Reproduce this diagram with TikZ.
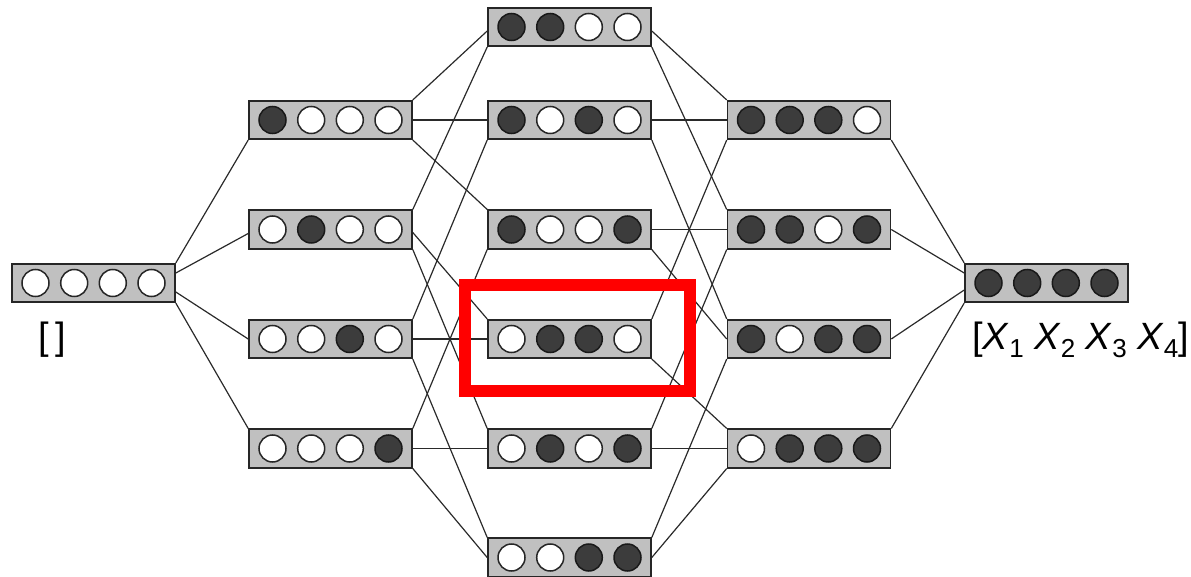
\documentclass[tikz,border=0pt]{standalone}
\usepackage{fontspec}
\setmainfont{Liberation Sans}
\usetikzlibrary{backgrounds}
\definecolor{boxgray}{HTML}{C0C0C0}
\definecolor{dotdark}{HTML}{3C3C3C}
\definecolor{linegray}{HTML}{2A2A2A}
\tikzset{
  bitbox/.style={rectangle, draw=black!85, line width=1.6pt, fill=boxgray,
    minimum width=163pt, minimum height=38.5pt, inner sep=0pt},
  bitone/.style={circle, draw=black!90, line width=1.5pt, fill=dotdark,
    minimum size=27pt, inner sep=0pt},
  bitzero/.style={circle, draw=black!85, line width=1.5pt, fill=white,
    minimum size=27pt, inner sep=0pt},
  link/.style={draw=linegray, line width=1.2pt},
  hilite/.style={rectangle, draw=red, line width=12pt, inner sep=0pt},
  lbl/.style={font=\fontsize{38}{40}\selectfont, inner sep=0pt, anchor=base}
}
\newcommand{\bitrow}[5]{%
  \node[bit#2] (#1-1) at ([xshift=-58pt]#1.center) {};
  \node[bit#3] (#1-2) at ([xshift=-19.3pt]#1.center) {};
  \node[bit#4] (#1-3) at ([xshift=19.3pt]#1.center) {};
  \node[bit#5] (#1-4) at ([xshift=58pt]#1.center) {};
}
\newcommand{\sbx}[1]{\raisebox{-0.22em}{\fontsize{26}{26}\selectfont #1}}
\begin{document}
\begin{tikzpicture}[x=1pt,y=-1pt]
\useasboundingbox (0,0) rectangle (1191,577);
% boxes
\node[bitbox] (e) at (93.5,283) {};
\node[bitbox] (a1) at (330.5,120) {};
\node[bitbox] (a2) at (330.5,229.5) {};
\node[bitbox] (a3) at (330.5,339) {};
\node[bitbox] (a4) at (330.5,448.5) {};
\node[bitbox] (b12) at (569.5,27) {};
\node[bitbox] (b13) at (569.5,120) {};
\node[bitbox] (b14) at (569.5,229.5) {};
\node[bitbox] (b23) at (569.5,339) {};
\node[bitbox] (b24) at (569.5,448.5) {};
\node[bitbox] (b34) at (569.5,557.5) {};
\node[bitbox] (c123) at (809,120) {};
\node[bitbox] (c124) at (809,229.5) {};
\node[bitbox] (c134) at (809,339) {};
\node[bitbox] (c234) at (809,448.5) {};
\node[bitbox] (f) at (1046.5,283) {};
% dots
\bitrow{e}{zero}{zero}{zero}{zero}
\bitrow{a1}{one}{zero}{zero}{zero}
\bitrow{a2}{zero}{one}{zero}{zero}
\bitrow{a3}{zero}{zero}{one}{zero}
\bitrow{a4}{zero}{zero}{zero}{one}
\bitrow{b12}{one}{one}{zero}{zero}
\bitrow{b13}{one}{zero}{one}{zero}
\bitrow{b14}{one}{zero}{zero}{one}
\bitrow{b23}{zero}{one}{one}{zero}
\bitrow{b24}{zero}{one}{zero}{one}
\bitrow{b34}{zero}{zero}{one}{one}
\bitrow{c123}{one}{one}{one}{zero}
\bitrow{c124}{one}{one}{zero}{one}
\bitrow{c134}{one}{zero}{one}{one}
\bitrow{c234}{zero}{one}{one}{one}
\bitrow{f}{one}{one}{one}{one}
% connectors
\begin{scope}[on background layer]
\draw[link] (e.north east) -- (a1.south west);
\draw[link] ([yshift=10pt]e.east) -- ([yshift=-4pt]a2.west);
\draw[link] ([yshift=-9pt]e.east) -- (a3.west);
\draw[link] (e.south east) -- (a4.north west);
\draw[link] (a1.north east) -- ([yshift=-4pt]b12.west);
\draw[link] (a1.east) -- (b13.west);
\draw[link] (a1.south east) -- (b14.north west);
\draw[link] (a2.north east) -- (b12.south west);
\draw[link] ([yshift=-3pt]a2.east) -- (b23.north west);
\draw[link] (a2.south east) -- (b24.north west);
\draw[link] (a3.north east) -- (b13.south west);
\draw[link] (a3.east) -- (b23.west);
\draw[link] (a3.south east) -- (b34.north west);
\draw[link] (a4.north east) -- (b14.south west);
\draw[link] (a4.east) -- (b24.west);
\draw[link] (a4.south east) -- (b34.west);
\draw[link] ([yshift=-4pt]b12.east) -- (c123.north west);
\draw[link] (b12.south east) -- (c124.north west);
\draw[link] (b13.east) -- (c123.west);
\draw[link] (b13.south east) -- (c134.north west);
\draw[link] (b14.east) -- (c124.west);
\draw[link] (b14.south east) -- (c134.west);
\draw[link] (b23.north east) -- (c123.south west);
\draw[link] (b23.south east) -- (c234.north west);
\draw[link] (b24.north east) -- (c124.south west);
\draw[link] (b24.east) -- (c234.west);
\draw[link] (b34.north east) -- (c134.south west);
\draw[link] (b34.east) -- (c234.south west);
\draw[link] (c123.south east) -- (f.north west);
\draw[link] (c124.east) -- ([yshift=10pt]f.west);
\draw[link] (c134.east) -- ([yshift=-7pt]f.west);
\draw[link] (c234.north east) -- (f.south west);
\end{scope}
% highlight
\node[hilite, minimum width=225pt, minimum height=105.5pt] (hl) at (577.5,337.75) {};
% labels
\node[lbl] (lempty) at (52.5,349) {[\hspace{7pt}]};
\node[lbl, anchor=base west] (lfull) at (972,349) {[\textit{X}\sbx{1} \textit{X}\sbx{2} \textit{X}\sbx{3} \textit{X}\sbx{4}]};
\end{tikzpicture}
\end{document}
